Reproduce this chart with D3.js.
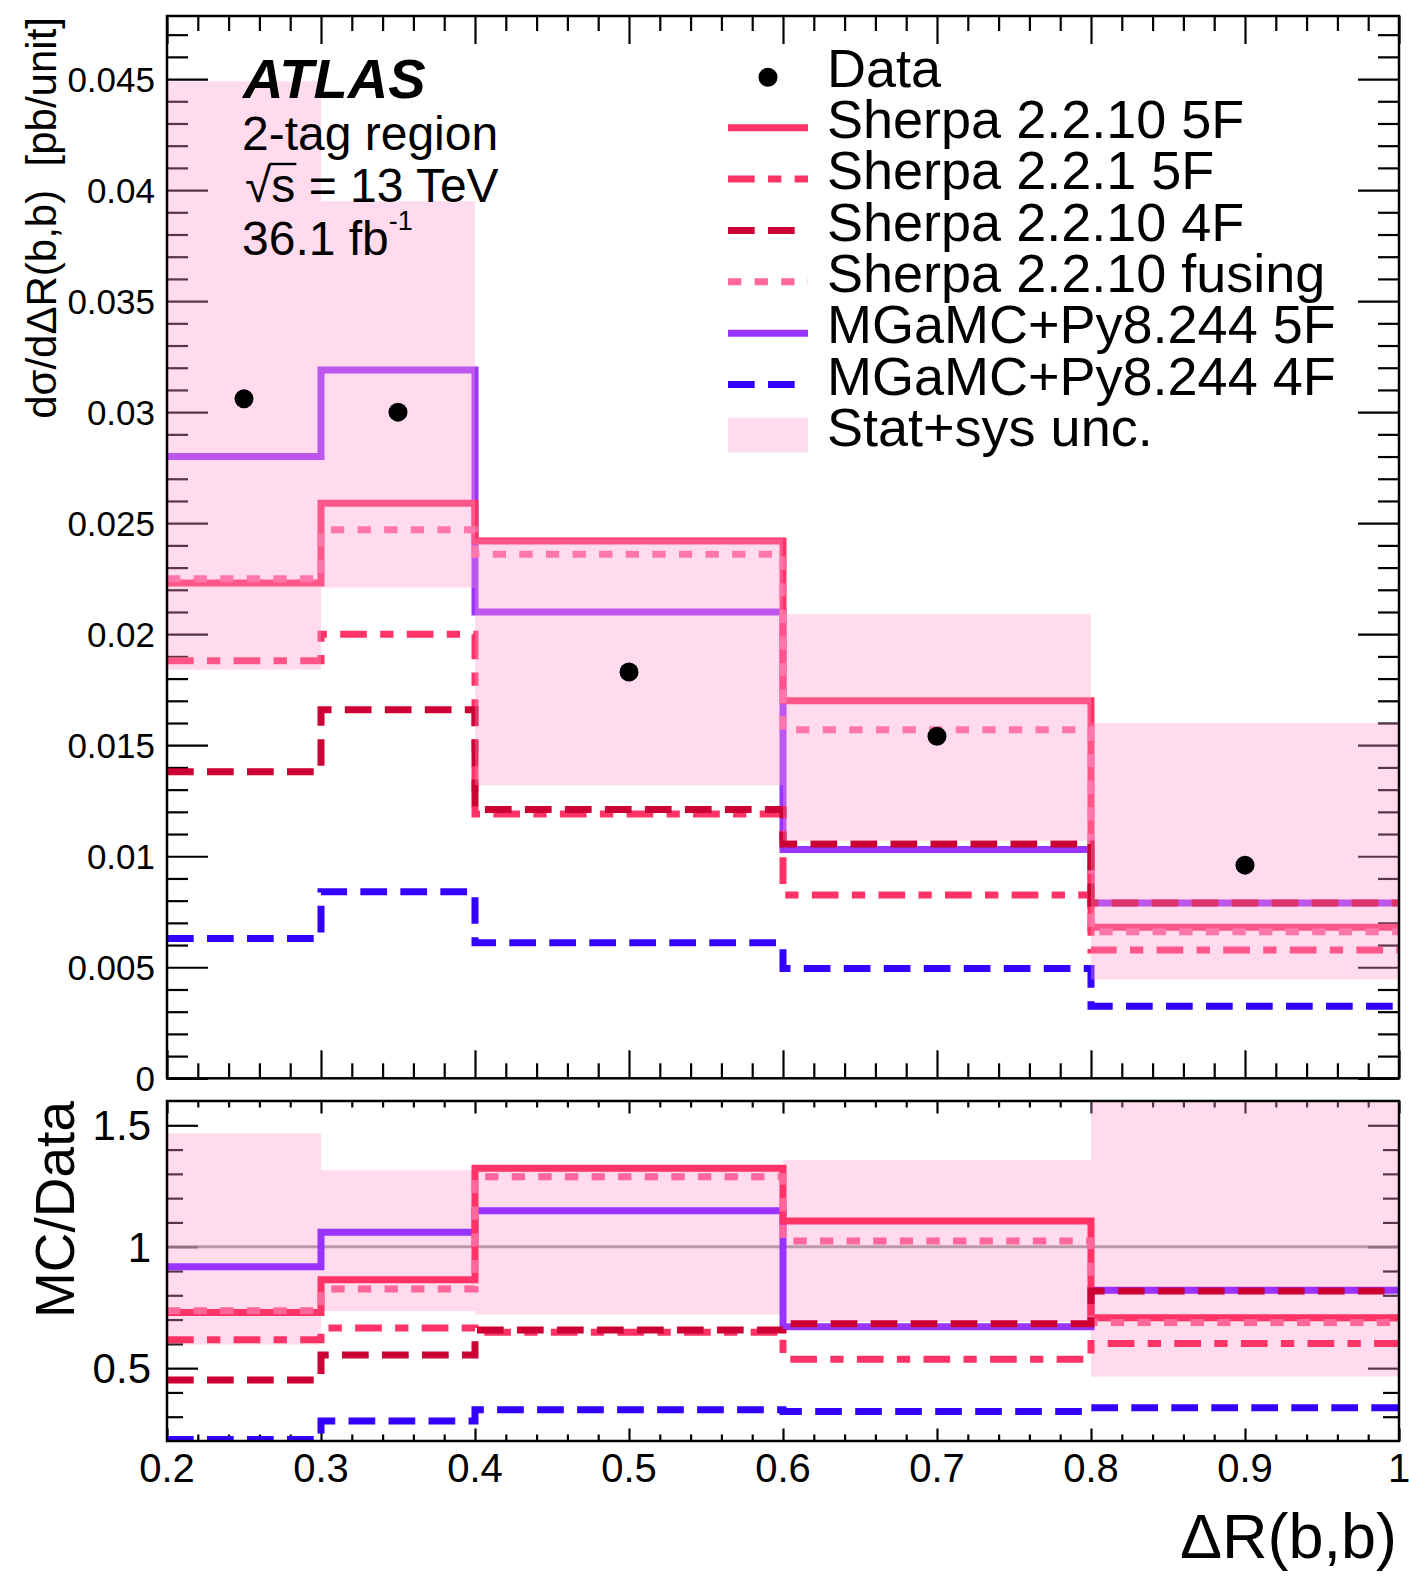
<!DOCTYPE html>
<html><head><meta charset="utf-8">
<script src="https://cdn.jsdelivr.net/npm/d3@7"></script>
<style>
body{margin:0;background:#fff;}
text{font-family:"Liberation Sans",Arial,Helvetica,sans-serif;fill:#000;}
</style>
</head><body>
<svg id="c" width="1409" height="1579" xmlns="http://www.w3.org/2000/svg"></svg>
<script>
// ---------------- data ----------------
const binEdges   = [0.2, 0.3, 0.4, 0.6, 0.8, 1.0];
const binCenters = [0.25, 0.35, 0.5, 0.7, 0.9];
const dataValues = [0.0306, 0.0300, 0.0183, 0.0154, 0.0096];
const bandUp     = [0.0449, 0.0395, 0.0243, 0.0209, 0.0160];
const bandDown   = [0.0184, 0.0221, 0.0132, 0.0107, 0.00445];
const sherpa5F   = [0.0223, 0.0259, 0.0242, 0.0170, 0.0068];
const sherpa221  = [0.0188, 0.0200, 0.0119, 0.00825, 0.00578];
const sherpa4F   = [0.0138, 0.0166, 0.0121, 0.01055, 0.0079];
const sherpaFus  = [0.0225, 0.0247, 0.0236, 0.0157, 0.0066];
const mg5F       = [0.0280, 0.0319, 0.0210, 0.0103, 0.0079];
const mg4F       = [0.0063, 0.0084, 0.0061, 0.00495, 0.00325];

const ratioBandUp   = [1.467, 1.315, 1.325, 1.357, 1.67];
const ratioBandDown = [0.597, 0.735, 0.721, 0.69, 0.465];
const rSherpa5F  = [0.729, 0.864, 1.323, 1.106, 0.708];
const rSherpa221 = [0.617, 0.665, 0.648, 0.537, 0.601];
const rSherpa4F  = [0.451, 0.554, 0.657, 0.683, 0.818];
const rSherpaFus = [0.736, 0.826, 1.288, 1.024, 0.688];
const rMg5F      = [0.917, 1.060, 1.148, 0.670, 0.821];
const rMg4F      = [0.206, 0.282, 0.329, 0.321, 0.337];

const xTickValues = [0.2, 0.3, 0.4, 0.5, 0.6, 0.7, 0.8, 0.9, 1.0];
const xTickLabels = ["0.2", "0.3", "0.4", "0.5", "0.6", "0.7", "0.8", "0.9", "1"];
const yTopTickValues = [0, 0.005, 0.01, 0.015, 0.02, 0.025, 0.03, 0.035, 0.04, 0.045];
const yTopTickLabels = ["0", "0.005", "0.01", "0.015", "0.02", "0.025", "0.03", "0.035", "0.04", "0.045"];
const yRatioTickValues = [0.5, 1, 1.5];
const yRatioTickLabels = ["0.5", "1", "1.5"];

const legendLabels = ["Data", "Sherpa 2.2.10 5F", "Sherpa 2.2.1 5F", "Sherpa 2.2.10 4F",
  "Sherpa 2.2.10 fusing", "MGaMC+Py8.244 5F", "MGaMC+Py8.244 4F", "Stat+sys unc."];

// ---------------- styles ----------------
const series = [
  {key:"mg4F",  top:mg4F,      ratio:rMg4F,      color:"#3300ff", dash:"26.7,13.3"},
  {key:"mg5F",  top:mg5F,      ratio:rMg5F,      color:"#9933ff", dash:null},
  {key:"s5F",   top:sherpa5F,  ratio:rSherpa5F,  color:"#ff3366", dash:null},
  {key:"s221",  top:sherpa221, ratio:rSherpa221, color:"#ff3366", dash:"26.7,13.3,13.3,13.3"},
  {key:"sFus",  top:sherpaFus, ratio:rSherpaFus, color:"#ff6699", dash:"13.3,13.3"},
  {key:"s4F",   top:sherpa4F,  ratio:rSherpa4F,  color:"#cc0033", dash:"26.7,13.3"}
];
const legendStyles = [
  null,
  {color:"#ff3366", dash:null},
  {color:"#ff3366", dash:"26.7,13.3,13.3,13.3"},
  {color:"#cc0033", dash:"26.7,13.3"},
  {color:"#ff6699", dash:"13.3,13.3"},
  {color:"#9933ff", dash:null},
  {color:"#3300ff", dash:"26.7,13.3"},
  null
];
const BAND_COLOR = "#ff99cc", BAND_OP = 0.35;
const LW = 7;

const svg = d3.select("#c");
const L = 167, R = 1399;
const topT = 16, topB = 1078.3, ratT = 1101, ratB = 1441;

const x  = d3.scaleLinear().domain([0.2, 1.0]).range([L, R]);
const yT = d3.scaleLinear().domain([0, 0.04784]).range([topB, topT]);
const yR = d3.scaleLinear().domain([0.2, 1.6]).range([ratB, ratT]);

const defs = svg.append("defs");
defs.append("clipPath").attr("id","clipTop").append("rect")
  .attr("x",L).attr("y",topT).attr("width",R-L).attr("height",topB-topT);
defs.append("clipPath").attr("id","clipRat").append("rect")
  .attr("x",L).attr("y",ratT).attr("width",R-L).attr("height",ratB-ratT);

const near = (a,b)=>Math.abs(a-b)<1e-9;
const xMajor = xTickValues;
const xMinor = d3.range(0, 41).map(i => 0.2 + i*0.02).filter(v => v <= 1.0001 && !xMajor.some(m=>near(m,v)));
const yTopMinor = d3.range(0, 48).map(i => i*0.001).filter(v => !yTopTickValues.some(m=>near(m,v)));
const yRatMinor = d3.range(2, 17).map(i => i*0.1).filter(v => v>0.2+1e-9 && v<1.6-1e-9 && !yRatioTickValues.some(m=>near(m,v)));

function ticks(g, axisFn, scale, vals, size, pos) {
  const a = g.append("g").attr("transform", pos)
    .call(axisFn(scale).tickValues(vals).tickSize(-size).tickFormat(""));
  a.select(".domain").remove();
  a.selectAll("line").attr("stroke","#000").attr("stroke-width",2.2);
  a.attr("color","#000");
}

const stepLine = (xs, ys) => d3.line().x(d=>xs(d[0])).y(d=>ys(d[1])).curve(d3.curveStepAfter);
const stepPts = vals => binEdges.map((e,i)=>[e, vals[Math.min(i, vals.length-1)]]);

// ================= TOP PANEL =================
const gTop = svg.append("g");
ticks(gTop, d3.axisBottom, x, xMajor, 28, `translate(0,${topB})`);
ticks(gTop, d3.axisBottom, x, xMinor, 15, `translate(0,${topB})`);
ticks(gTop, d3.axisTop, x, xMajor, 28, `translate(0,${topT})`);
ticks(gTop, d3.axisTop, x, xMinor, 15, `translate(0,${topT})`);
ticks(gTop, d3.axisLeft, yT, yTopTickValues, 41, `translate(${L},0)`);
ticks(gTop, d3.axisLeft, yT, yTopMinor, 21, `translate(${L},0)`);
ticks(gTop, d3.axisRight, yT, yTopTickValues, 41, `translate(${R},0)`);
ticks(gTop, d3.axisRight, yT, yTopMinor, 21, `translate(${R},0)`);

const gTopPlot = gTop.append("g").attr("clip-path","url(#clipTop)");
series.forEach(s => {
  gTopPlot.append("path").attr("d", stepLine(x,yT)(stepPts(s.top)))
    .attr("fill","none").attr("stroke",s.color).attr("stroke-width",LW)
    .attr("stroke-dasharray", s.dash).attr("stroke-linecap","butt");
});
// uncertainty band (drawn over lines, translucent)
gTopPlot.selectAll("rect.band").data(bandUp).enter().append("rect")
  .attr("x",(d,i)=>x(binEdges[i])).attr("width",(d,i)=>x(binEdges[i+1])-x(binEdges[i]))
  .attr("y",d=>yT(d)).attr("height",(d,i)=>yT(bandDown[i])-yT(d))
  .attr("fill",BAND_COLOR).attr("fill-opacity",BAND_OP);
// data points
gTopPlot.selectAll("circle.data").data(dataValues).enter().append("circle")
  .attr("cx",(d,i)=>x(binCenters[i])).attr("cy",d=>yT(d)).attr("r",9.5).attr("fill","#000");

gTop.append("rect").attr("x",L).attr("y",topT).attr("width",R-L).attr("height",topB-topT)
  .attr("fill","none").attr("stroke","#000").attr("stroke-width",2.5);

// y tick labels
gTop.selectAll("text.yl").data(yTopTickValues).enter().append("text")
  .attr("x",155).attr("y",d=>yT(d)).attr("dy","0.36em").attr("text-anchor","end")
  .attr("font-size",35).text((d,i)=>yTopTickLabels[i]);

// y title
gTop.append("text").attr("transform",`translate(56,17) rotate(-90)`)
  .attr("text-anchor","end").attr("font-size",42).style("white-space","pre")
  .text("dσ/dΔR(b,b)  [pb/unit]");

// ATLAS labels
gTop.append("text").attr("x",243).attr("y",97.7).attr("font-size",56)
  .attr("font-weight","bold").attr("font-style","italic").text("ATLAS");
gTop.append("text").attr("x",242).attr("y",150).attr("font-size",48).text("2-tag region");
const sq = gTop.append("text").attr("x",245).attr("y",201.7).attr("font-size",48);
sq.append("tspan").text("√");
sq.append("tspan").text("s = 13 TeV");
{
  const node = sq.node();
  const s0 = node.getStartPositionOfChar(1).x, s1 = node.getEndPositionOfChar(1).x;
  gTop.append("line").attr("x1",s0-2).attr("x2",s1+1).attr("y1",164).attr("y2",164)
    .attr("stroke","#000").attr("stroke-width",2.4);
}
const lum = gTop.append("text").attr("x",242).attr("y",255).attr("font-size",48);
lum.append("tspan").text("36.1 fb");
lum.append("tspan").attr("font-size",27).attr("dy",-25).text("-1");

// legend
const legX0 = 728, legX1 = 808, legTextX = 827, legBase0 = 86.7, legStep = 51.35;
const gLeg = gTop.append("g");
legendLabels.forEach((lab,i) => {
  const base = legBase0 + i*legStep;
  const cy = base - 10.3;
  if (i === 0) {
    gLeg.append("circle").attr("cx",768).attr("cy",base-9.4).attr("r",9.5).attr("fill","#000");
  } else if (i === legendLabels.length-1) {
    gLeg.append("rect").attr("x",legX0).attr("width",legX1-legX0).attr("y",417.7).attr("height",34.6)
      .attr("fill",BAND_COLOR).attr("fill-opacity",BAND_OP);
  } else {
    const st = legendStyles[i];
    gLeg.append("line").attr("x1",legX0).attr("x2",legX1).attr("y1",cy).attr("y2",cy)
      .attr("stroke",st.color).attr("stroke-width",LW).attr("stroke-dasharray",st.dash);
  }
  gLeg.append("text").attr("x",legTextX).attr("y",base).attr("font-size",54).text(lab);
});

// ================= RATIO PANEL =================
const gR = svg.append("g");
ticks(gR, d3.axisBottom, x, xMajor, 12.5, `translate(0,${ratB})`);
ticks(gR, d3.axisBottom, x, xMinor, 6.5, `translate(0,${ratB})`);
ticks(gR, d3.axisTop, x, xMajor, 12.5, `translate(0,${ratT})`);
ticks(gR, d3.axisTop, x, xMinor, 6.5, `translate(0,${ratT})`);
ticks(gR, d3.axisLeft, yR, yRatioTickValues, 31, `translate(${L},0)`);
ticks(gR, d3.axisLeft, yR, yRatMinor, 16, `translate(${L},0)`);
ticks(gR, d3.axisRight, yR, yRatioTickValues, 31, `translate(${R},0)`);
ticks(gR, d3.axisRight, yR, yRatMinor, 16, `translate(${R},0)`);

const gRP = gR.append("g").attr("clip-path","url(#clipRat)");
gRP.append("line").attr("x1",L).attr("x2",R).attr("y1",yR(1)).attr("y2",yR(1))
  .attr("stroke","#777").attr("stroke-width",3).attr("stroke-opacity",0.75);
gRP.selectAll("rect.rband").data(ratioBandUp).enter().append("rect")
  .attr("x",(d,i)=>x(binEdges[i])).attr("width",(d,i)=>x(binEdges[i+1])-x(binEdges[i]))
  .attr("y",d=>yR(d)).attr("height",(d,i)=>yR(ratioBandDown[i])-yR(d))
  .attr("fill",BAND_COLOR).attr("fill-opacity",BAND_OP);
series.forEach(s => {
  gRP.append("path").attr("d", stepLine(x,yR)(stepPts(s.ratio)))
    .attr("fill","none").attr("stroke",s.color).attr("stroke-width",LW)
    .attr("stroke-dasharray", s.dash).attr("stroke-linecap","butt");
});
gR.append("rect").attr("x",L).attr("y",ratT).attr("width",R-L).attr("height",ratB-ratT)
  .attr("fill","none").attr("stroke","#000").attr("stroke-width",2.5);

gR.selectAll("text.ryl").data(yRatioTickValues).enter().append("text")
  .attr("x",151).attr("y",d=>yR(d)).attr("dy","0.36em").attr("text-anchor","end")
  .attr("font-size",42).text((d,i)=>yRatioTickLabels[i]);
gR.append("text").attr("transform",`translate(74,${ratT}) rotate(-90)`)
  .attr("text-anchor","end").attr("font-size",55).text("MC/Data");

gR.selectAll("text.xl").data(xTickValues).enter().append("text")
  .attr("x",d=>x(d)).attr("y",1481.7).attr("text-anchor","middle")
  .attr("font-size",40).text((d,i)=>xTickLabels[i]);
gR.append("text").attr("x",1397).attr("y",1558).attr("text-anchor","end")
  .attr("font-size",63).text("ΔR(b,b)");
</script>
</body></html>
